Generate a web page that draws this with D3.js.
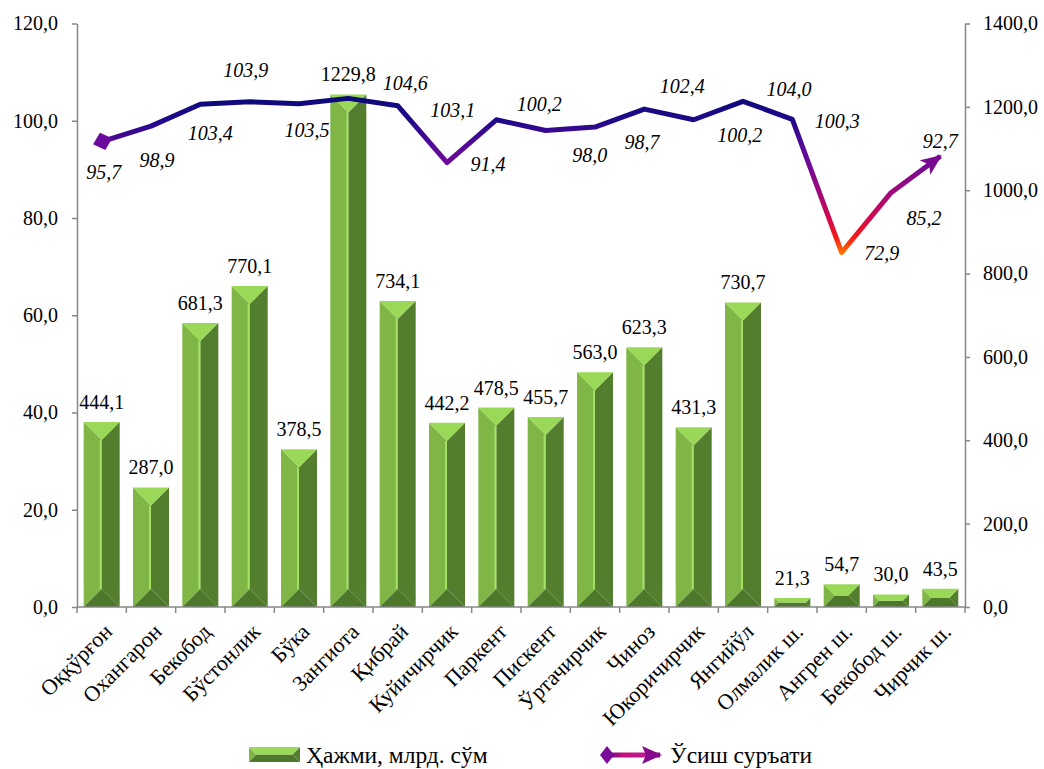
<!DOCTYPE html>
<html><head><meta charset="utf-8">
<script src="https://cdn.jsdelivr.net/npm/d3@7"></script>
<style>
body{margin:0;background:#fff}
svg{display:block}
text{font-family:"Liberation Serif","Times New Roman","DejaVu Serif",serif;fill:#000}
</style>
</head><body>
<svg id="chart" width="1044" height="769"></svg>
<script>
const categories = ["Оққўрғон","Охангарон","Бекобод","Бўстонлик","Бўка","Зангиота","Қибрай","Куйичирчик","Паркент","Пискент","Ўртачирчик","Чиноз","Юкоричирчик","Янгийўл","Олмалик ш.","Ангрен ш.","Бекобод ш.","Чирчик ш."];
const volume = [444.1,287.0,681.3,770.1,378.5,1229.8,734.1,442.2,478.5,455.7,563.0,623.3,431.3,730.7,21.3,54.7,30.0,43.5];
const growth = [95.7,98.9,103.4,103.9,103.5,104.6,103.1,91.4,100.2,98.0,98.7,102.4,100.2,104.0,100.3,72.9,85.2,92.7];
const leftTicks = [0,20,40,60,80,100,120];
const rightTicks = [0,200,400,600,800,1000,1200,1400];
const seriesNames = ["Ҳажми, млрд. сўм","Ўсиш суръати"];
// label placement (offset from point, in px) for growth labels
const growthLabelOffsets = [[2,30],[6,34],[10,29],[-4,-32],[8,26],[57,-15],[55,4],[41,1],[43,-16],[44,25],[47,15],[38,-23],[46,15],[46,-12],[45,2],[40,0],[33,25],[0,-15]];

const FONT = '"Liberation Serif","Times New Roman","DejaVu Serif",serif';
const svg = d3.select("#chart").style("font-family", FONT);
const plot = {left:77, right:965, top:23.5, bottom:607};
const fmt = v => d3.format(".1f")(v).replace(".", ",");

const x = d3.scaleBand().domain(categories).range([plot.left, plot.right]).paddingInner(0.27).paddingOuter(0.135);
const yL = d3.scaleLinear().domain([0,120]).range([plot.bottom, plot.top]);
const yR = d3.scaleLinear().domain([0,1400]).range([plot.bottom, plot.top]);

const defs = svg.append("defs");
const lg = defs.append("linearGradient").attr("id","lineGrad").attr("gradientUnits","userSpaceOnUse")
  .attr("x1",0).attr("x2",0).attr("y1",yL(105)).attr("y2",yL(72.5));
[[105,"#0a0a78"],[100,"#22088a"],[95,"#520a98"],[91,"#700a96"],[85,"#a20a7a"],[80,"#d0084c"],[76,"#f41a18"],[72.5,"#ff7a00"]]
  .forEach(([v,c]) => lg.append("stop").attr("offset", (105 - v)/(105-72.5)).attr("stop-color", c));

const legGrad = defs.append("linearGradient").attr("id","legGrad").attr("x1",0).attr("x2",1).attr("y1",0).attr("y2",0);
[[0,"#6a0a9a"],[0.3,"#c0107a"],[0.7,"#c01890"],[1,"#800a8a"]].forEach(([o,c]) => legGrad.append("stop").attr("offset",o).attr("stop-color",c));

function marker(id, path, fill, refX, w, h){
  defs.append("marker").attr("id",id).attr("markerUnits","userSpaceOnUse")
    .attr("viewBox",`0 ${-h/2} ${w} ${h}`).attr("markerWidth",w).attr("markerHeight",h)
    .attr("refX",refX).attr("refY",0).attr("orient","auto")
    .append("path").attr("d",path).attr("fill",fill);
}
marker("startDia","M0,0 L10,-9 L20,0 L10,9 Z","#680a9c",9,20,18);
marker("endArr","M0,-9 L21,0 L0,9 L5,0 Z","#7a0a90",19,21,18);
marker("legStart","M0,0 L7,-9 L14,0 L7,9 Z","#7a0a98",7,14,18);
marker("legEnd","M0,-9 L20,0 L0,9 L4,0 Z","#860a8a",18,20,18);

const colors = {top:"#99d957", left:"#7fb646", right:"#527e2e", bottom:"#4d772a", ridge:"#a4e063"};
function bevelBar(g, x0, y0, w, h){
  const x1 = x0 + w, y1 = y0 + h;
  const b = Math.min(w/2, h/2);
  const P = pts => pts.map(p => p.join(",")).join(" ");
  g.append("polygon").attr("points", P([[x0,y0],[x0+b,y0+b],[x0+b,y1-b],[x0,y1]])).attr("fill",colors.left);
  g.append("polygon").attr("points", P([[x1,y0],[x1-b,y0+b],[x1-b,y1-b],[x1,y1]])).attr("fill",colors.right);
  g.append("polygon").attr("points", P([[x0,y1],[x1,y1],[x1-b,y1-b],[x0+b,y1-b]])).attr("fill",colors.bottom);
  g.append("polygon").attr("points", P([[x0,y0],[x1,y0],[x1-b,y0+b],[x0+b,y0+b]])).attr("fill",colors.top);
  if (h > w) {
    g.append("line").attr("x1",x0+b-1).attr("x2",x0+b-1).attr("y1",y0+b).attr("y2",y1-b)
      .attr("stroke",colors.ridge).attr("stroke-width",2);
  }
}

// bars
const barsG = svg.append("g");
categories.forEach((c,i) => {
  const g = barsG.append("g");
  bevelBar(g, x(c), yR(volume[i]), x.bandwidth(), plot.bottom - yR(volume[i]));
});

// axes
const axisColor = "#878787";
const gL = svg.append("g").attr("transform",`translate(${plot.left},0)`)
  .call(d3.axisLeft(yL).tickValues(leftTicks).tickFormat(fmt).tickSize(5).tickSizeOuter(0).tickPadding(14));
const gR = svg.append("g").attr("transform",`translate(${plot.right},0)`)
  .call(d3.axisRight(yR).tickValues(rightTicks).tickFormat(fmt).tickSize(5).tickSizeOuter(0).tickPadding(13));
[gL,gR].forEach(g => {
  g.attr("font-family", null);
  g.selectAll("path,line").attr("stroke",axisColor).attr("stroke-width",1.5);
  g.selectAll("text").attr("font-size",20).style("font-family",FONT).attr("fill","#000");
});

// category axis
const xAxisG = svg.append("g");
xAxisG.append("line").attr("x1",plot.left).attr("x2",plot.right).attr("y1",plot.bottom).attr("y2",plot.bottom)
  .attr("stroke",axisColor).attr("stroke-width",1.5);
const step = x.step();
d3.range(categories.length + 1).forEach(i => {
  const xx = plot.left + i*step;
  xAxisG.append("line").attr("x1",xx).attr("x2",xx).attr("y1",plot.bottom).attr("y2",plot.bottom+6)
    .attr("stroke",axisColor).attr("stroke-width",1.5);
});
categories.forEach(c => {
  const cx = x(c) + x.bandwidth()/2;
  xAxisG.append("text").attr("transform",`translate(${cx+12},${plot.bottom+26}) rotate(-45)`)
    .attr("text-anchor","end").attr("font-size",22).text(c);
});

// bar labels
categories.forEach((c,i) => {
  svg.append("text").attr("x", x(c)+x.bandwidth()/2).attr("y", yR(volume[i]) - 13)
    .attr("text-anchor","middle").attr("font-size",20).text(fmt(volume[i]));
});

// line
const pts = categories.map((c,i) => [x(c)+x.bandwidth()/2, yL(growth[i])]);
svg.append("path").attr("d", d3.line()(pts)).attr("fill","none")
  .attr("stroke","url(#lineGrad)").attr("stroke-width",5).attr("stroke-linejoin","round")
  .attr("marker-start","url(#startDia)").attr("marker-end","url(#endArr)");

// line labels
categories.forEach((c,i) => {
  const [px,py] = pts[i];
  const [dx,dy] = growthLabelOffsets[i];
  svg.append("text").attr("x", px+dx).attr("y", py+dy).attr("dy","0.35em")
    .attr("text-anchor","middle").attr("font-size",20).attr("font-style","italic").text(fmt(growth[i]));
});

// legend
const legG = svg.append("g");
bevelBar(legG, 249, 747, 51, 15);
legG.append("text").attr("x",306).attr("y",763).attr("font-size",23.5).text(seriesNames[0]);
legG.append("line").attr("x1",607).attr("x2",660).attr("y1",755).attr("y2",755.01)
  .attr("stroke","url(#legGrad)").attr("stroke-width",5)
  .attr("marker-start","url(#legStart)").attr("marker-end","url(#legEnd)");
legG.append("text").attr("x",670).attr("y",763).attr("font-size",23.5).text(seriesNames[1]);
</script>
</body></html>
